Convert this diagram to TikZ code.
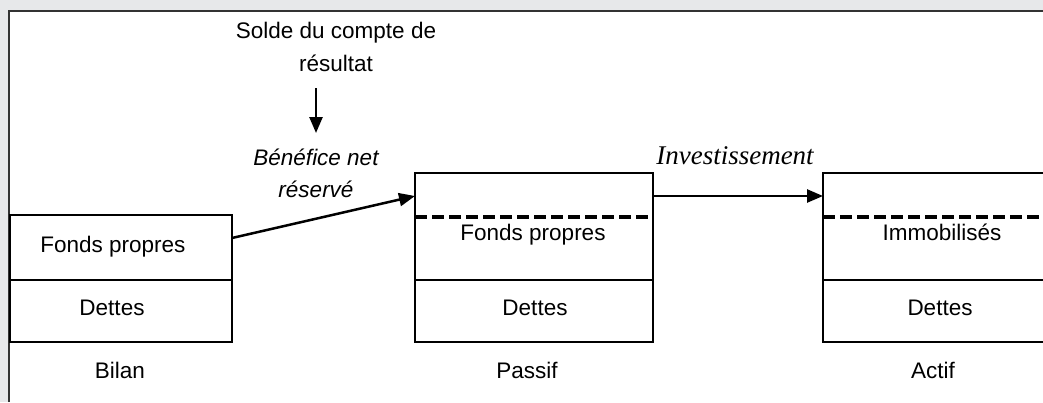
\documentclass[tikz,border=0pt]{standalone}
\usepackage{fontspec}
\setmainfont{Liberation Sans}
\newfontfamily\serifit{Liberation Serif}
\usetikzlibrary{arrows.meta}
\definecolor{PanelClr}{rgb}{0.906,0.910,0.918}
\definecolor{FrameClr}{rgb}{0.2,0.2,0.2}

\begin{document}
\begin{tikzpicture}[x=1pt,y=-1pt,
  txt/.style={font=\fontsize{22.5}{27}\selectfont,anchor=base,inner sep=0pt},
  box/.style={draw=black,line width=1.3pt},
  cut/.style={line width=4pt,dash pattern=on 12pt off 5pt},
  flow/.style={line width=2.5pt,-{Triangle[length=16pt,width=13pt]}}]
\useasboundingbox (0,0) rectangle (1043,402);

% panel
\fill[PanelClr] (0,0) rectangle (1043,402);
\fill[white] (9,11) rectangle (1043,402);
\draw[FrameClr,line width=2.5pt] (9,402) |- (1043,11);

% bilan
\draw[box] (10,215) rectangle (232,342);
\draw[box] (10,280) -- (232,280);
% passif
\draw[box] (415,173) rectangle (653,342);
\draw[box] (415,280) -- (653,280);
\draw[cut] (415,217) -- (653,217);
% actif
\draw[box] (1045,173) -| (823,342) -- (1045,342);
\draw[box] (823,280) -- (1045,280);
\draw[cut] (823,217) -- (1045,217);

\node[txt] (fpB) at (113,252) {Fonds propres};
\node[txt] (dtB) at (112,315) {Dettes};
\node[txt] (bilan) at (120,378) {Bilan};
\node[txt] (fpP) at (533,240) {Fonds propres};
\node[txt] (dtP) at (535,315) {Dettes};
\node[txt] (passif) at (527,378) {Passif};
\node[txt] (immo) at (942,240) {Immobilisés};
\node[txt] (dtA) at (940,315) {Dettes};
\node[txt] (actif) at (933,378) {Actif};

% the base anchor sits on the last line
\node[txt,align=center] (solde) at (336,71) {Solde du compte de\\[6pt]résultat};
\node[txt,align=center,font=\fontsize{22.5}{27}\selectfont\itshape] (benef) at (316,197) {Bénéfice net\\[5pt]réservé};
\node[txt,font=\fontsize{27}{30}\selectfont\serifit\itshape] (invest) at (735,164) {Investissement};

\coordinate (soldeS) at (316,88);
\coordinate (soldeE) at (316,133);
\coordinate (bilanR) at (232,238);
\coordinate (passifL) at (415,196);
\coordinate (passifR) at (653,196);
\coordinate (actifL) at (823,196);

\draw[flow] (soldeS) -- (soldeE);
\draw[flow] (bilanR) -- (passifL);
\draw[flow] (passifR) -- (actifL);

\end{tikzpicture}
\end{document}
